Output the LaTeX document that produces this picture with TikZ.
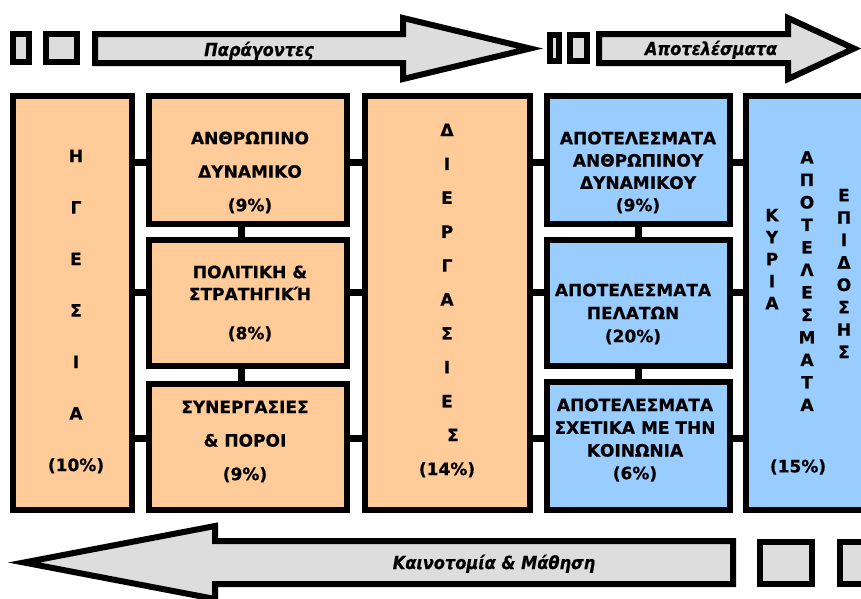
\documentclass[tikz,border=0pt]{standalone}
\usepackage{fontspec}
\setmainfont{DejaVu Sans}[BoldFeatures={FakeBold=0.6}]
\newfontfamily\arrowfont{DejaVu Sans}[FakeStretch=0.9,BoldItalicFeatures={FakeBold=0.6}]
\usetikzlibrary{backgrounds}
\definecolor{orangebox}{HTML}{FFCC99}
\definecolor{bluebox}{HTML}{99CCFF}
\definecolor{arrowgray}{HTML}{DDDDDD}
\begin{document}
\begin{tikzpicture}[x=1pt,y=-1pt,
  obox/.style={draw=black,line width=6pt,fill=orangebox,inner sep=0pt},
  bbox/.style={draw=black,line width=6pt,fill=bluebox,inner sep=0pt},
  sbox/.style={draw=black,line width=6pt,fill=arrowgray,inner sep=0pt},
  arr/.style={draw=black,line width=6pt,fill=arrowgray,line join=miter,miter limit=10},
  conn/.style={draw=black,line width=7pt},
  lbl/.style={align=center,inner sep=0pt,font=\bfseries\fontsize{17}{#1}\selectfont},
  atext/.style={anchor=base,inner sep=0pt,font=\arrowfont\bfseries\itshape\fontsize{18}{20}\selectfont}]
\useasboundingbox (0,0) rectangle (861,598);
\clip (0,0) rectangle (861,598);
% boxes
\node[obox,minimum width=119pt,minimum height=414pt] (hg) at (72.5,303) {};
\node[obox,minimum width=198pt,minimum height=128pt] (a1) at (248,160) {};
\node[obox,minimum width=198pt,minimum height=126pt] (a2) at (248,303) {};
\node[obox,minimum width=198pt,minimum height=126pt] (a3) at (248,447) {};
\node[obox,minimum width=165pt,minimum height=414pt] (di) at (447.5,303) {};
\node[bbox,minimum width=183pt,minimum height=128pt] (b1) at (638.5,160) {};
\node[bbox,minimum width=183pt,minimum height=126pt] (b2) at (638.5,303) {};
\node[bbox,minimum width=183pt,minimum height=128pt] (b3) at (638.5,446) {};
\node[bbox,minimum width=122pt,minimum height=414pt] (rr) at (807,303) {};
% connectors
\coordinate (y1) at (0,162.5);
\coordinate (y2) at (0,292.5);
\coordinate (y3) at (0,438.5);
\coordinate (vx1) at (241,0);
\coordinate (vx2) at (638,0);
\begin{scope}[on background layer]
\foreach \r/\s in {hg/a1,a1/di,di/b1,b1/rr} \draw[conn] (\r.east |- y1) -- (\s.west |- y1);
\foreach \r/\s in {hg/a2,a2/di,di/b2,b2/rr} \draw[conn] (\r.east |- y2) -- (\s.west |- y2);
\foreach \r/\s in {hg/a3,a3/di,di/b3,b3/rr} \draw[conn] (\r.east |- y3) -- (\s.west |- y3);
\draw[conn] (a1.south -| vx1) -- (a2.north -| vx1);
\draw[conn] (a2.south -| vx1) -- (a3.north -| vx1);
\draw[conn] (b1.south -| vx2) -- (b2.north -| vx2);
\draw[conn] (b2.south -| vx2) -- (b3.north -| vx2);
\end{scope}
% top row
\node[sbox,minimum width=16pt,minimum height=28pt] (s1) at (21,48) {};
\node[sbox,minimum width=31pt,minimum height=28pt] (s2) at (61.5,48) {};
\draw[arr] (95,34) -- (403,34) -- (403,18) -- (530,48.5) -- (403,79) -- (403,63) -- (95,63) -- cycle;
\node[sbox,minimum width=9pt,minimum height=26pt] (s3) at (554.5,48) {};
\node[sbox,minimum width=17pt,minimum height=26pt] (s4) at (578.5,48) {};
\draw[arr] (599,34) -- (788,34) -- (788,18) -- (854,48.5) -- (788,79) -- (788,63) -- (599,63) -- cycle;
% bottom row
\draw[arr] (733,541) -- (215,541) -- (215,526) -- (24,562.5) -- (215,599) -- (215,584) -- (733,584) -- cycle;
\node[sbox,minimum width=52pt,minimum height=42pt] (s5) at (786,563) {};
\node[sbox,minimum width=52pt,minimum height=42pt] (s6) at (866,563) {};
% arrow texts
\node[atext] (t1) at (259,56) {Παράγοντες};
\node[atext] (t2) at (711,55) {Αποτελέσματα};
\node[atext] (t3) at (494,569) {Καινοτομία \& Μάθηση};
% box texts
\node[lbl=51.5] (hgT) at (76,311.5) {Η\\Γ\\Ε\\Σ\\Ι\\Α\\(10\%)};
\node[lbl=33.5] (a1T) at (250,172.5) {ΑΝΘΡΩΠΙΝΟ\\ΔΥΝΑΜΙΚΟ\\(9\%)};
\node[lbl=22] (a2T) at (250,303.5) {ΠΟΛΙΤΙΚΗ \&\\ΣΤΡΑΤΗΓΙΚΉ\\[17pt](8\%)};
\node[lbl=33.5] (a3T) at (245,441.5) {ΣΥΝΕΡΓΑΣΙΕΣ\\\& ΠΟΡΟΙ\\(9\%)};
\node[lbl=33.9] (diT) at (447,300.5) {Δ\\Ι\\Ε\\Ρ\\Γ\\Α\\Σ\\Ι\\Ε\\\hspace*{12pt}Σ\\(14\%)};
\node[lbl=22.3] (b1T) at (638,172.5) {ΑΠΟΤΕΛΕΣΜΑΤΑ\\ΑΝΘΡΩΠΙΝΟΥ\\ΔΥΝΑΜΙΚΟΥ\\(9\%)};
\node[lbl=23] (b2T) at (633,314) {ΑΠΟΤΕΛΕΣΜΑΤΑ\\ΠΕΛΑΤΩΝ\\(20\%)};
\node[lbl=22.7] (b3T) at (635,440) {ΑΠΟΤΕΛΕΣΜΑΤΑ\\ΣΧΕΤΙΚΑ ΜΕ ΤΗΝ\\ΚΟΙΝΩΝΙΑ\\(6\%)};
\node[lbl=22] (rK) at (772,259) {Κ\\Υ\\Ρ\\Ι\\Α};
\node[lbl=22.5] (rA) at (807,281) {Α\\Π\\Ο\\Τ\\Ε\\Λ\\Ε\\Σ\\Μ\\Α\\Τ\\Α};
\node[lbl=22.4] (rE) at (844,273.5) {Ε\\Π\\Ι\\Δ\\Ο\\Σ\\Η\\Σ};
\node[lbl=20] (rP) at (798,467) {(15\%)};
\end{tikzpicture}
\end{document}
